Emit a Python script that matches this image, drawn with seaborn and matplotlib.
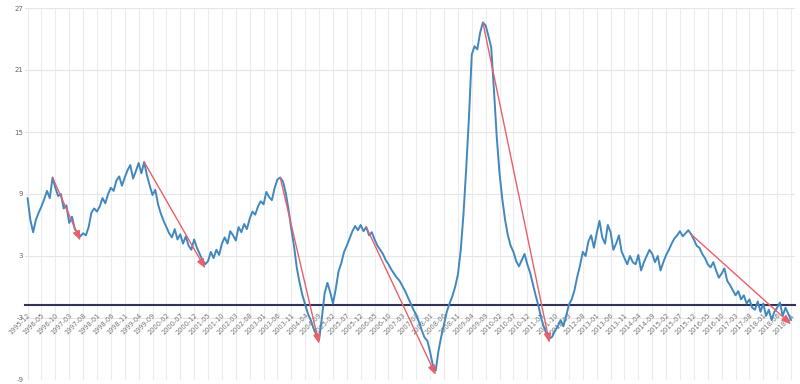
import numpy as np
import pandas as pd
import matplotlib
matplotlib.use("Agg")
import matplotlib.pyplot as plt
import seaborn as sns

# ---- data (monthly, 1995-12 .. 2018-11) ----
START = "1995-12"
values = [
    8.6, 6.5, 5.3, 6.5, 7.2, 7.8, 8.5, 9.3, 8.6, 10.6,
    9.6, 8.8, 9.0, 7.6, 7.9, 6.2, 6.8, 5.6, 5.3, 4.9,
    5.2, 5.0, 5.8, 7.2, 7.6, 7.3, 7.8, 8.6, 8.1, 9.0,
    9.6, 9.3, 10.3, 10.7, 9.8, 10.6, 11.3, 11.8, 10.5, 11.2,
    12.0, 11.0, 12.1, 10.8, 9.8, 8.9, 9.4, 8.0, 7.1, 6.4,
    5.8, 5.2, 4.8, 5.6, 4.6, 5.1, 4.2, 4.9, 4.0, 3.6,
    4.6, 3.8, 3.2, 2.6, 2.2, 2.5, 3.4, 2.8, 3.6, 3.1,
    4.2, 4.8, 4.2, 5.4, 5.0, 4.5, 5.8, 5.3, 6.1, 5.6,
    6.6, 7.3, 7.0, 7.8, 8.3, 8.0, 9.2, 8.7, 8.4, 9.6,
    10.4, 10.6, 10.2, 9.1, 7.5, 5.6, 3.9, 1.8, 0.4, -0.8,
    -1.7, -2.6, -3.2, -4.0, -4.6, -5.1, -3.0, -0.6, 0.4, -0.5,
    -1.6, -0.2, 1.5, 2.3, 3.4, 4.0, 4.7, 5.4, 5.9, 5.5,
    6.0, 5.4, 5.8, 5.0, 5.3, 4.6, 4.0, 3.6, 3.2, 2.6,
    2.2, 1.7, 1.3, 0.9, 0.6, 0.1, -0.4, -1.0, -1.6, -2.2,
    -2.7, -3.4, -4.2, -4.9, -5.2, -6.3, -7.6, -8.1, -6.2, -4.8,
    -3.6, -2.4, -1.6, -0.9, 0.0, 1.2, 3.5, 7.0, 11.5, 16.5,
    22.5, 23.3, 23.0, 24.6, 25.6, 25.3, 24.3, 23.2, 19.0, 14.5,
    11.0, 8.5, 6.5, 5.0, 4.0, 3.4, 2.5, 2.0, 2.6, 3.2,
    2.2, 1.4, 0.3, -0.8, -1.8, -3.0, -3.9, -4.6, -5.0, -4.8,
    -4.2, -3.8, -3.2, -3.8, -2.8, -1.7, -1.2, -0.3, 1.0, 2.1,
    3.4, 3.0, 4.4, 5.0, 3.8, 5.2, 6.4, 4.8, 4.2, 6.0,
    5.3, 3.6, 4.2, 5.0, 3.4, 2.8, 2.2, 3.0, 2.4, 2.2,
    3.1, 1.6, 2.4, 3.0, 3.6, 3.2, 2.4, 3.0, 1.6, 2.4,
    3.1, 3.6, 4.2, 4.7, 5.0, 5.4, 4.9, 5.2, 5.5, 5.1,
    4.6, 4.0, 3.8, 3.2, 2.8, 2.2, 1.9, 2.4, 1.6, 0.9,
    1.3, 1.8, 0.6, 0.2, -0.3, -0.8, -0.4, -1.2, -0.8, -1.6,
    -1.2, -2.0, -2.2, -1.4, -2.4, -1.6, -2.8, -2.2, -3.2, -2.4,
    -2.0, -1.5, -2.8, -2.0, -2.6, -3.2,
]
months = pd.period_range(START, periods=len(values), freq="M").strftime("%Y-%m").tolist()

# peak -> trough arrows (month labels)
arrow_from = ["1996-09", "1999-06", "2003-07", "2006-02", "2009-08", "2015-11"]
arrow_to = ["1997-07", "2001-04", "2004-09", "2008-03", "2011-08", "2018-11"]

y_ticks = [-9, -3, 3, 9, 15, 21, 27]
axis_level = -1.74
tick_step = 5

df = pd.DataFrame({"idx": np.arange(len(values)), "month": months, "value": values})

sns.set_style("white")
fig = plt.figure(figsize=(8, 3.84), dpi=100)
ax = fig.add_axes([0.031, 4 / 384, 0.963, 372 / 384])

# grid
for t in range(0, len(values), tick_step):
    ax.axvline(t, color="#ececf0", lw=0.8, zorder=0)
for t in y_ticks:
    ax.axhline(t, color="#e6e6ea", lw=0.8, zorder=0)

sns.lineplot(data=df, x="idx", y="value", ax=ax, color="#4088bd", lw=1.4, zorder=3)

pos = {m: i for i, m in enumerate(months)}
for a, b in zip(arrow_from, arrow_to):
    ia, ib = pos[a], pos[b]
    ax.annotate("", xy=(ib, values[ib] - 0.4), xytext=(ia, values[ia]),
                arrowprops=dict(arrowstyle="-|>,head_length=0.55,head_width=0.22",
                                color="#e8606a", lw=1.0, shrinkA=0, shrinkB=0),
                zorder=4)

# spines first (set_position resets tick properties)
for s in ["top", "right", "left"]:
    ax.spines[s].set_visible(False)
ax.spines["bottom"].set_position(("data", axis_level))
ax.spines["bottom"].set_color("#33335a")
ax.spines["bottom"].set_linewidth(1.5)
ax.spines["bottom"].set_zorder(2)

ax.set_xlim(-1, 276.5)
ax.set_ylim(-9, 27)
ax.set_yticks(y_ticks)
ax.set_yticklabels([str(t) for t in y_ticks], fontsize=5, color="#666666")
ax.tick_params(axis="y", length=0, pad=1)

xt = list(range(0, len(values), tick_step))
ax.set_xticks(xt)
ax.set_xticklabels([months[i] for i in xt], rotation=45, ha="right",
                   rotation_mode="anchor", fontsize=4.8, color="#777777")
ax.tick_params(axis="x", length=3, width=1.0, color="#333355", direction="out", pad=2)
ax.set_xlabel("")
ax.set_ylabel("")

fig.savefig("out.png", dpi=100, facecolor="white")
